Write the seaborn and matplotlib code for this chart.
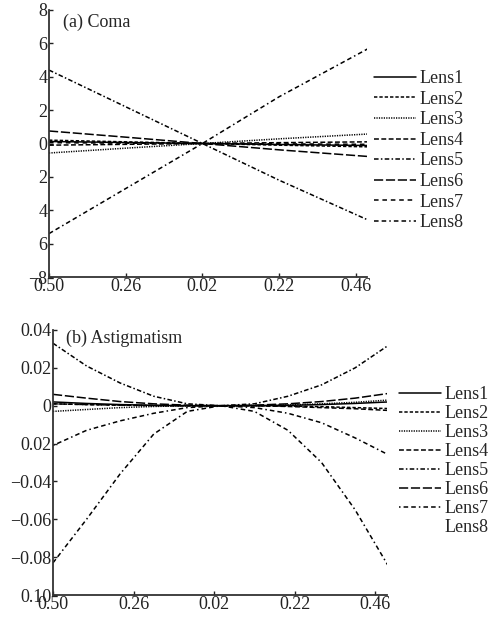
import numpy as np
import pandas as pd
import matplotlib
matplotlib.use("Agg")
import matplotlib.pyplot as plt
import seaborn as sns

sns.set_theme(style="ticks")
plt.rcParams['font.family'] = ['Liberation Serif', 'DejaVu Serif']

lenses = ["Lens1", "Lens2", "Lens3", "Lens4", "Lens5", "Lens6", "Lens7", "Lens8"]

# (a) Coma
coma_x = [-0.50, -0.26, -0.02, 0.22, 0.50]
coma_lens1 = [0.12, 0.06, 0.0, -0.06, -0.12]
coma_lens2 = [0.20, 0.10, 0.0, -0.10, -0.20]
coma_lens3 = [-0.57, -0.28, 0.0, 0.28, 0.57]
coma_lens4 = [-0.10, -0.05, 0.0, 0.05, 0.10]
coma_lens5 = [4.4, 2.2, 0.0, -2.2, -4.6]
coma_lens6 = [0.75, 0.38, 0.0, -0.38, -0.78]
coma_lens7 = [0.05, 0.02, 0.0, -0.02, -0.05]
coma_lens8 = [-5.4, -2.7, 0.0, 2.8, 5.7]

# (b) Astigmatism
ast_x = [-0.50, -0.40, -0.30, -0.20, -0.10, 0.0, 0.10, 0.20, 0.30, 0.40, 0.50]
ast_lens1 = [0.002, 0.0012, 0.0006, 0.0002, 0.0, 0.0, 0.0, 0.0002, 0.0006, 0.0012, 0.002]
ast_lens2 = [0.001, 0.0006, 0.0003, 0.0001, 0.0, 0.0, 0.0, -0.0002, -0.0005, -0.001, -0.0015]
ast_lens3 = [-0.003, -0.002, -0.001, -0.0004, 0.0, 0.0, 0.0, 0.0004, 0.001, 0.0018, 0.003]
ast_lens4 = [0.001, 0.0006, 0.0003, 0.0001, 0.0, 0.0, 0.0, -0.0004, -0.001, -0.0016, -0.0025]
ast_lens5 = [0.033, 0.021, 0.012, 0.005, 0.001, 0.0, 0.001, 0.005, 0.011, 0.020, 0.032]
ast_lens6 = [0.006, 0.004, 0.0022, 0.001, 0.0003, 0.0, 0.0003, 0.001, 0.0022, 0.004, 0.0065]
ast_lens7 = [-0.021, -0.013, -0.008, -0.004, -0.001, 0.0, -0.001, -0.004, -0.009, -0.017, -0.026]
ast_lens8 = [-0.083, -0.060, -0.036, -0.015, -0.003, 0.0, -0.003, -0.013, -0.030, -0.055, -0.085]

x_ticks = [-0.50, -0.26, -0.02, 0.22, 0.46]
x_ticklabels = ["0.50", "0.26", "0.02", "0.22", "0.46"]
coma_yticks = [8, 6, 4, 2, 0, -2, -4, -6, -8]
coma_yticklabels = ["8", "6", "4", "2", "0", "2", "4", "6", "\u22128"]
ast_yticks = [0.04, 0.02, 0.0, -0.02, -0.04, -0.06, -0.08, -0.10]
ast_yticklabels = ["0.04", "0.02", "0", "0.02", "\u22120.04", "\u22120.06", "\u22120.08", "0.10"]

coma_vals = [coma_lens1, coma_lens2, coma_lens3, coma_lens4, coma_lens5, coma_lens6, coma_lens7, coma_lens8]
ast_vals = [ast_lens1, ast_lens2, ast_lens3, ast_lens4, ast_lens5, ast_lens6, ast_lens7, ast_lens8]

def long_df(xs, vals):
    rows = []
    for name, v in zip(lenses, vals):
        for x, y in zip(xs, v):
            rows.append({"x": x, "y": y, "lens": name})
    return pd.DataFrame(rows)

df_coma = long_df(coma_x, coma_vals)
df_ast = long_df(ast_x, ast_vals)

dashes_top = {
    "Lens1": "",
    "Lens2": (2.2, 1.3),
    "Lens3": (0.8, 0.8),
    "Lens4": (3.2, 1.6),
    "Lens5": (3, 1.5, 1, 1.5),
    "Lens6": (6, 1.8),
    "Lens7": (3, 2.5),
    "Lens8": (3, 2, 3, 2, 1, 2),
}
dashes_bot = dict(dashes_top)
dashes_bot["Lens7"] = (1, 2, 3, 2, 3, 2)

palette = {n: "black" for n in lenses}

fig = plt.figure(figsize=(4.93, 6.22), dpi=100)
ax1 = fig.add_axes([49/493, 1-277/622, (367-49)/493, (277-10)/622])
ax2 = fig.add_axes([53/493, 1-595/622, (387-53)/493, (595-330)/622])

sns.lineplot(data=df_coma, x="x", y="y", hue="lens", style="lens",
             dashes=dashes_top, palette=palette, linewidth=1.1, ax=ax1,
             legend=True, sort=False)
sns.lineplot(data=df_ast, x="x", y="y", hue="lens", style="lens",
             dashes=dashes_bot, palette=palette, linewidth=1.1, ax=ax2,
             legend=True, sort=False)

fs = 13
for ax, yt, ytl, ylim in [(ax1, coma_yticks, coma_yticklabels, (-8, 8)),
                          (ax2, ast_yticks, ast_yticklabels, (-0.10, 0.04))]:
    ax.set_xlim(-0.50, 0.495)
    ax.set_ylim(*ylim)
    ax.set_xticks(x_ticks)
    ax.set_xticklabels(x_ticklabels, fontsize=fs)
    ax.set_yticks(yt)
    ax.set_yticklabels(ytl, fontsize=fs)
    ax.set_xlabel("")
    ax.set_ylabel("")
    ax.tick_params(direction="in", length=3, width=1, pad=1, colors="#222222")
    for s in ["top", "right"]:
        ax.spines[s].set_visible(False)
    for s in ["left", "bottom"]:
        ax.spines[s].set_linewidth(1.3)
        ax.spines[s].set_color("#333333")
    ax.set_facecolor("white")

ax1.text(0.045, 0.985, "(a) Coma", transform=ax1.transAxes, fontsize=fs, va="top", ha="left")
ax2.text(0.04, 1.0, "(b) Astigmatism", transform=ax2.transAxes, fontsize=fs, va="top", ha="left")

for ax, anchor, spacing in [(ax1, (374/493, 1-70/622), 0.2), (ax2, (399/493, 1-386/622), 0.11)]:
    h, l = ax.get_legend_handles_labels()
    ax.get_legend().remove()
    leg = fig.legend(h, l, loc="upper left", bbox_to_anchor=anchor, frameon=False,
                     fontsize=fs, handlelength=2.3, handletextpad=0.2,
                     labelspacing=spacing, borderaxespad=0, borderpad=0)
    for line in leg.get_lines():
        line.set_linewidth(1.1)
    if ax is ax2:
        leg.get_lines()[-1].set_visible(False)

fig.savefig("out.png", dpi=100, facecolor="white")
